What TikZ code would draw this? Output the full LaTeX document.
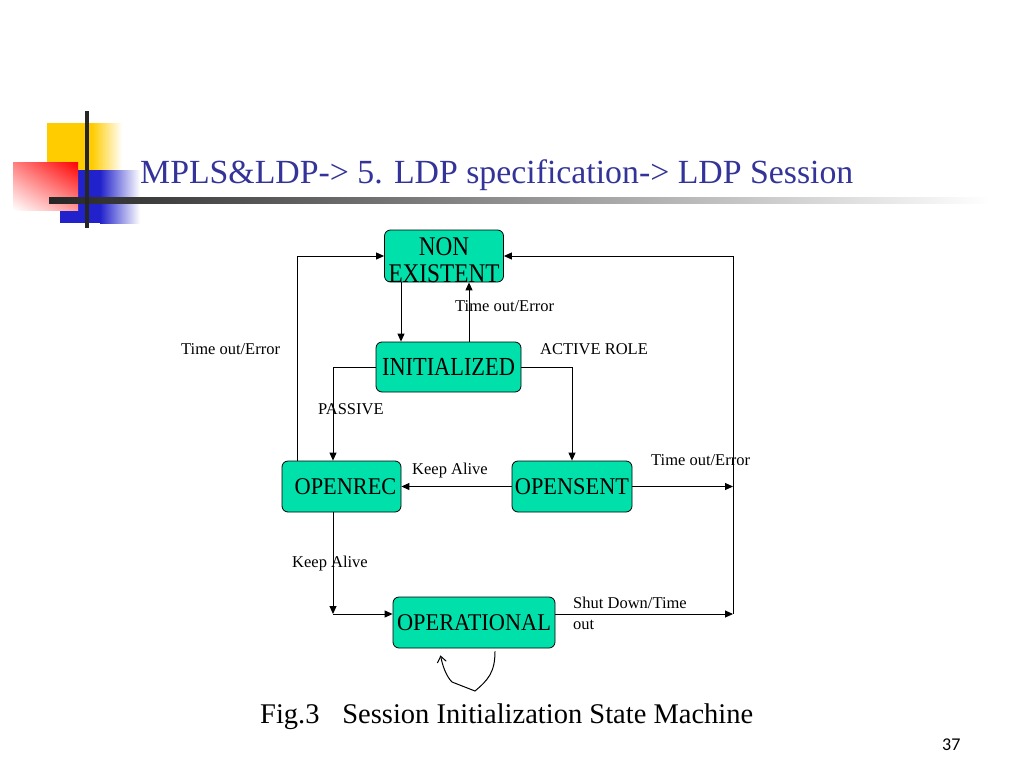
\documentclass[tikz,border=0pt]{standalone}
\usepackage{fontspec}
\setmainfont{Liberation Serif}
\newfontfamily\numfont{Carlito}
\newfontfamily\nodefontA[FakeStretch=0.86]{Liberation Serif}
\newfontfamily\nodefontB[FakeStretch=0.86]{Liberation Serif}
\newfontfamily\nodefontC[FakeStretch=0.93]{Liberation Serif}
\usetikzlibrary{arrows.meta,shadings}
\definecolor{stfill}{RGB}{0,224,170}
\definecolor{titleblue}{RGB}{51,51,153}
\definecolor{ylw}{RGB}{255,204,0}
\definecolor{blu}{RGB}{34,34,204}
\begin{document}
\begin{tikzpicture}[x=1pt,y=-1pt,
  state/.style={draw=black, line width=0.8pt, fill=stfill, rounded corners=6pt,
    font=\nodefontC\fontsize{24}{26}\selectfont, inner sep=0pt, align=center},
  arr/.style={draw, line width=1pt, -{Triangle[length=8pt,width=7pt]}},
  plain/.style={draw, line width=1pt},
  lbl/.style={font=\fontsize{16.5}{18}\selectfont, anchor=base west, inner sep=0pt},
  loopline/.style={draw, line width=1pt, -{Straight Barb[length=6pt,width=9pt]}}]
\useasboundingbox (0,0) rectangle (1024,768);
% decoration
\fill[ylw] (47,123) rectangle (92,170);
\shade[left color=ylw, right color=white] (92,123) rectangle (122,170);
\fill[blu] (60,170) rectangle (100,223);
\shade[left color=blu, right color=white] (100,170) rectangle (140,223);
\shade[upper right=red, upper left=red!50!white, lower right=red!40!white, lower left=white] (13,162) rectangle (78,210);
\shade[left color=black!85, right color=white] (49,197) rectangle (990,203);
\fill[black!85] (85,111) rectangle (89,228);
% title
\node[anchor=base west, inner sep=0pt, text=titleblue, font=\fontsize{33.8}{35}\selectfont] (title) at (140,183) {MPLS\&LDP-> 5. LDP specification-> LDP Session};
% states
\node[state, minimum width=119pt, minimum height=52pt, text height=52pt, text depth=0pt,
  font=\nodefontA\fontsize{27}{26.5}\selectfont] (nonex) at (444,256) {NON\\EXISTENT};
\node[state, minimum width=145pt, minimum height=50pt,
  font=\nodefontB\fontsize{26}{28}\selectfont] (init) at (448.5,367) {INITIALIZED};
\node[state, minimum width=119pt, minimum height=51pt] (openrec) at (341.5,486.5) {\hspace*{8pt}OPENREC};
\node[state, minimum width=120pt, minimum height=51pt] (opensent) at (572,486.5) {OPENSENT};
\node[state, minimum width=162pt, minimum height=51pt] (oper) at (474,622.5) {OPERATIONAL};
% coordinates
\coordinate (rtop) at (733,256);
\coordinate (rbot) at (733,614);
\coordinate (kc) at (333,614);
\coordinate (lp) at (475,691);
% connectors
\draw[arr] ([xshift=-43pt]nonex.south) -- ([xshift=-43pt]nonex.south |- init.north);
\draw[arr] ([xshift=20.5pt]init.north) -- ([xshift=20.5pt]init.north |- nonex.south);
\draw[arr] ([xshift=-44.5pt]openrec.north) |- (nonex.west);
\draw[plain] (rbot) -- (rtop);
\draw[arr] (rtop) -- (nonex.east);
\draw[arr] (init.west) -| ([xshift=-8.5pt]openrec.north);
\draw[arr] (init.east) -| (opensent.north);
\draw[arr] (opensent.west) -- (openrec.east);
\draw[arr] (opensent.east) -- (opensent.east -| rtop);
\draw[arr] ([xshift=-8.5pt]openrec.south) -- (kc);
\draw[arr] (kc) -- ([yshift=8.5pt]oper.west);
\draw[arr] ([yshift=8.5pt]oper.east) -- (rbot);
\draw[loopline] ([shift={(21pt,-3pt)}]oper.south) .. controls +(0,21) and +(13,-11) .. (lp)
  -- (452,682) .. controls +(-6,-6) and +(2,10) .. ([shift={(-33.5pt,-7pt)}]oper.south);
% labels
\node[lbl] (l1) at (455,311.5) {Time out/Error};
\node[lbl] (l2) at (181,354.5) {Time out/Error};
\node[lbl] (l3) at (540,354.5) {ACTIVE ROLE};
\node[lbl] (l4) at (318,414.5) {PASSIVE};
\node[lbl] (l5) at (412,474.5) {Keep Alive};
\node[lbl] (l6) at (651,465.5) {Time out/Error};
\node[lbl] (l7) at (292,567.5) {Keep Alive};
\node[lbl, align=left, font=\fontsize{16.5}{21}\selectfont, anchor=north west] (l8) at (573,597) {Shut Down/Time\\out};
% caption
\node[anchor=base west, inner sep=0pt, font=\fontsize{28.5}{30}\selectfont] (cap) at (260,723) {Fig.3\hspace{0.8em}Session Initialization State Machine};
\node[anchor=base west, inner sep=0pt, font=\numfont\fontsize{18}{20}\selectfont] (pg) at (942,750) {37};
\end{tikzpicture}
\end{document}
